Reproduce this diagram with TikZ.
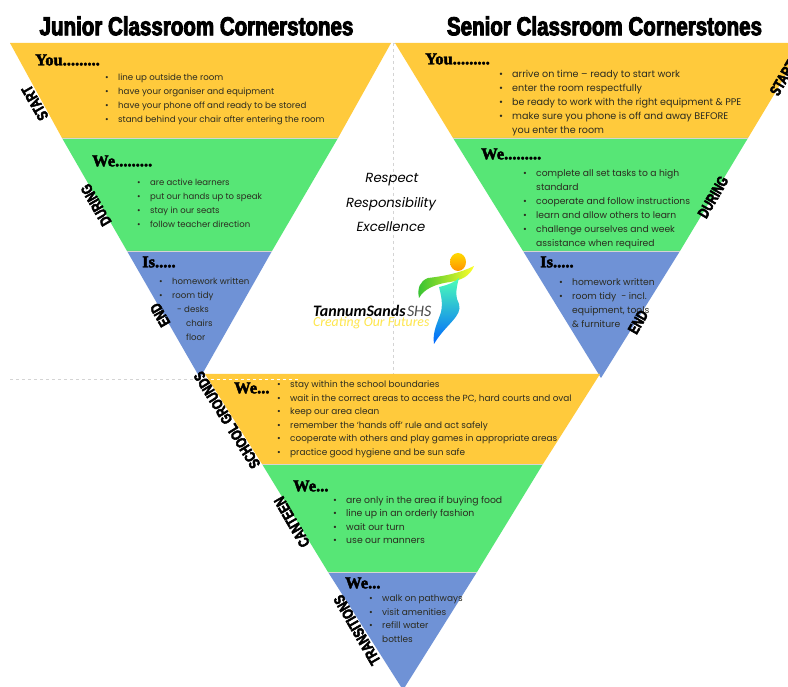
\documentclass[tikz,border=0pt]{standalone}
\usepackage{fontspec}
\usepackage{tikz}
\usetikzlibrary{positioning}
\setmainfont{Poppins}
\newfontfamily\titlefont[FakeStretch=0.79,FakeBold=3.5]{Liberation Sans Bold}
\newfontfamily\sidefont[FakeStretch=0.74,FakeBold=3]{Liberation Sans Bold}
\newfontfamily\headfont[FakeBold=2.5]{Liberation Serif Bold}
\newfontfamily\logofont{Carlito}
\definecolor{myellow}{HTML}{FFCA3C}
\definecolor{mgreen}{HTML}{57E676}
\definecolor{mblue}{HTML}{6F92D6}
\definecolor{mink}{HTML}{2B2B20}
\definecolor{mdash}{HTML}{D4D4D4}
\newcommand{\itm}{\makebox[13pt][l]{\textbullet}}
\newcommand{\cnt}{\hspace*{13pt}}
\tikzset{title/.style = {font=\titlefont\fontsize{26}{26}\selectfont, inner sep = 0}}
\tikzset{head/.style = {anchor=west, font=\headfont\fontsize{16.5}{16.5}\selectfont, inner sep = 0}}
\tikzset{listbox/.style = {anchor=north west, align=left, text=mink, inner sep = 0,
                           font=\fontsize{#1}{14}\selectfont}}
\tikzset{tightbox/.style = {anchor=north west, align=left, text=mink, inner sep = 0,
                            font=\fontsize{#1}{13.45}\selectfont}}
\tikzset{side/.style = {font=\sidefont\fontsize{15.5}{15.5}\selectfont, inner sep = 0}}
\tikzset{motto/.style = {font=\itshape\fontsize{13.2}{13.2}\selectfont, inner sep = 0}}
\tikzset{gap/.style = {white!80!mink, line width=0.8}}
\tikzset{fold/.style = {mdash, dashed, line width=0.6}}
\begin{document}
\begin{tikzpicture}[x=1pt, y=-1pt]
          \useasboundingbox (0, 0) rectangle (788, 687);
          \clip (0, 0) rectangle (788, 687);
          \fill [white] (0, 0) rectangle (788, 687);

          \draw [fold] (10, 43) -- (395, 43);
          \draw [fold] (393, 43) -- (393, 374);
          \draw [fold] (10, 379) -- (205, 379);

          % junior
          \fill [myellow] (10, 43) -- (391, 43) -- (338, 138) -- (62, 138) -- cycle;
          \fill [mgreen] (62, 138) -- (338, 138) -- (272, 251) -- (127, 251) -- cycle;
          \fill [mblue] (127, 251) -- (272, 251) -- (200, 378) -- cycle;
          \draw [gap] (62, 138) -- (338, 138);
          \draw [gap] (127, 251) -- (272, 251);

          % senior
          \fill [myellow] (395, 43) -- (805, 43) -- (748, 138) -- (453, 138) -- cycle;
          \fill [mgreen] (453, 138) -- (748, 138) -- (680, 251) -- (523, 251) -- cycle;
          \fill [mblue] (523, 251) -- (680, 251) -- (601, 378) -- cycle;
          \draw [gap] (453, 138) -- (748, 138);
          \draw [gap] (523, 251) -- (680, 251);

          % playground
          \fill [myellow] (205, 374) -- (600, 374) -- (543, 464) -- (262, 464) -- cycle;
          \fill [mgreen] (262, 464) -- (543, 464) -- (477, 572) -- (328, 572) -- cycle;
          \fill [mblue] (328, 572) -- (477, 572) -- (403, 690) -- cycle;
          \draw [gap] (262, 464) -- (543, 464);
          \draw [gap] (328, 572) -- (477, 572);
          \draw [white, dashed, line width=0.5] (205, 379) -- (300, 379);

          \node [title] (juniortitle) at (196.5, 26) {Junior Classroom Cornerstones};
          \node [title] (seniortitle) at (604.5, 26) {Senior Classroom Cornerstones};

          \node [head] (jstarthead) at (35, 60) {You.........};
          \node [head] (jduringhead) at (92, 161) {We.........};
          \node [head] (jendhead) at (142, 262) {Is.....};
          \node [head] (sstarthead) at (425, 59) {You.........};
          \node [head] (sduringhead) at (481, 154) {We.........};
          \node [head] (sendhead) at (540, 262) {Is.....};
          \node [head] (ghead) at (234, 388) {We...};
          \node [head] (chead) at (293, 486) {We...};
          \node [head] (thead) at (345, 583) {We...};

          \node [listbox=8.65] (jstartlist) at (105, 74) {\itm line up outside the room\\
            \itm have your organiser and equipment\\
            \itm have your phone off and ready to be stored\\
            \itm stand behind your chair after entering the room};
          \node [listbox=8.5] (jduringlist) at (137, 179) {\itm are active learners\\
            \itm put our hands up to speak\\
            \itm stay in our seats\\
            \itm follow teacher direction};
          \node [listbox=8.6] (jendlist) at (159, 278) {\itm homework written\\
            \itm room tidy\\
            \cnt\hspace{5pt}- desks\\
            \cnt\hspace{14pt}chairs\\
            \cnt\hspace{14pt}floor};

          \node [listbox=9.6] (sstartlist) at (499, 70) {\itm arrive on time – ready to start work\\
            \itm enter the room respectfully\\
            \itm be ready to work with the right equipment \& PPE\\
            \itm make sure you phone is off and away BEFORE\\
            \cnt you enter the room};
          \node [listbox=9.2] (sduringlist) at (523, 169) {\itm complete all set tasks to a high\\
            \cnt standard\\
            \itm cooperate and follow instructions\\
            \itm learn and allow others to learn\\
            \itm challenge ourselves and week\\
            \cnt assistance when required};
          \node [listbox=9.2] (sendlist) at (559, 278) {\itm homework written\\
            \itm room tidy\ \ - incl.\\
            \cnt equipment, tools\\
            \cnt \& furniture};

          \node [tightbox=8.9] (glist) at (277, 381) {\itm stay within the school boundaries\\
            \itm wait in the correct areas to access the PC, hard courts and oval\\
            \itm keep our area clean\\
            \itm remember the ‘hands off’ rule and act safely\\
            \itm cooperate with others and play games in appropriate areas\\
            \itm practice good hygiene and be sun safe};
          \node [tightbox=9.3] (clist) at (333, 496) {\itm are only in the area if buying food\\
            \itm line up in an orderly fashion\\
            \itm wait our turn\\
            \itm use our manners};
          \node [tightbox=8.95] (tlist) at (369, 595) {\itm walk on pathways\\
            \itm visit amenities\\
            \itm refill water\\
            \cnt bottles};

          \node [side, rotate=120] (jstartside) at (35, 103) {START};
          \node [side, rotate=120] (jduringside) at (96, 205) {DURING};
          \node [side, rotate=120] (jendside) at (160, 315) {END};
          \node [side, rotate=60] (sstartside) at (783, 78) {START};
          \node [side, rotate=60] (sduringside) at (713, 197) {DURING};
          \node [side, rotate=60] (sendside) at (638, 322) {END};
          \node [side, rotate=122] (gside) at (227, 420) {SCHOOL GROUNDS};
          \node [side, rotate=120] (cside) at (292, 522) {CANTEEN};
          \node [side, rotate=120] (tside) at (357, 630) {TRANSITIONS};

          \node [motto] (respect) at (392, 180) {Respect};
          \node [motto] (responsibility) at (391, 204) {Responsibility};
          \node [motto] (excellence) at (391, 227) {Excellence};

          % logo
          \shade [top color=yellow!70!orange, bottom color=orange!85!yellow] (458, 262) ellipse [x radius=8, y radius=9];
          \shade [left color=green!70!black!80!white, right color=yellow!85!white]
            (419, 298) .. controls (417, 288) and (420, 281) .. (428, 278)
            .. controls (445, 276) and (460, 273) .. (474, 266)
            .. controls (470, 276) and (462, 280) .. (450, 282)
            .. controls (435, 284) and (424, 289) .. (419, 298) -- cycle;
          \shade [top color=cyan!60!green!70!white, bottom color=blue!60!cyan]
            (439, 287) .. controls (448, 285) and (455, 282) .. (459, 278)
            .. controls (455, 292) and (456, 298) .. (459, 304)
            .. controls (463, 316) and (445, 325) .. (434, 344)
            .. controls (432, 332) and (438, 322) .. (441, 312)
            .. controls (443, 303) and (441, 295) .. (439, 287) -- cycle;
          \node [font=\logofont\bfseries\itshape\fontsize{16}{16}\selectfont, anchor=west, inner sep = 0] (logoname) at (313, 311) {TannumSands};
          \node [font=\logofont\itshape\fontsize{16}{16}\selectfont, text=black!70, inner sep = 0, right=1pt of logoname] (logoshs) {SHS};
          \node [font=\logofont\itshape\fontsize{13.8}{13.8}\selectfont, text=yellow!80!orange!70!white, anchor=west, inner sep = 0] (logotag) at (313, 323) {Creating Our Futures};
        \end{tikzpicture}
\end{document}
